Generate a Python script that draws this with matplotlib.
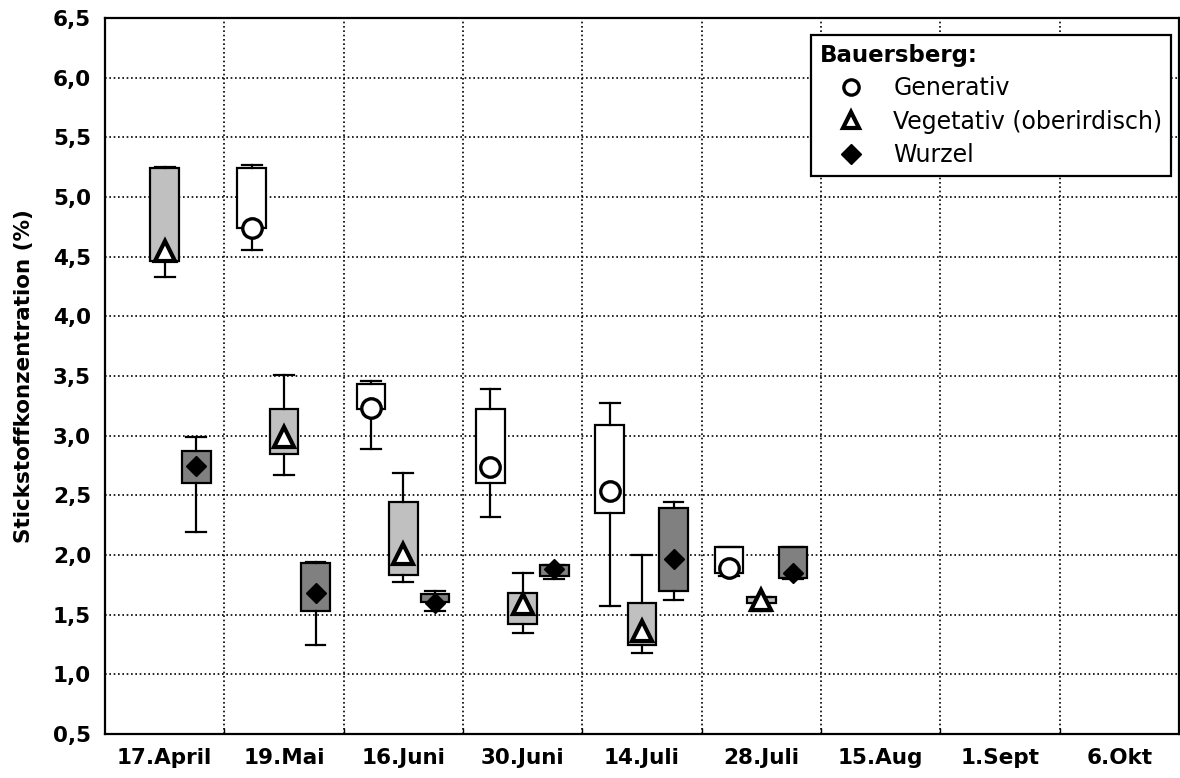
import numpy as np
import matplotlib
matplotlib.use("Agg")
import matplotlib.pyplot as plt
from matplotlib.lines import Line2D
from matplotlib.ticker import FixedLocator, FuncFormatter

# ---- data -------------------------------------------------------------
dates = ["17.April", "19.Mai", "16.Juni", "30.Juni", "14.Juli",
         "28.Juli", "15.Aug", "1.Sept", "6.Okt"]
nan = np.nan

# Generativ
gen_lo   = [nan, 4.56, 2.89, 2.32, 1.57, 1.82, nan, nan, nan]
gen_q1   = [nan, 4.74, 3.22, 2.60, 2.35, 1.85, nan, nan, nan]
gen_q3   = [nan, 5.24, 3.43, 3.22, 3.09, 2.07, nan, nan, nan]
gen_hi   = [nan, 5.27, 3.46, 3.39, 3.27, 2.07, nan, nan, nan]
gen_mean = [nan, 4.74, 3.23, 2.74, 2.54, 1.89, nan, nan, nan]

# Vegetativ (oberirdisch)
veg_lo   = [4.33, 2.67, 1.77, 1.35, 1.18, 1.53, nan, nan, nan]
veg_q1   = [4.46, 2.85, 1.83, 1.42, 1.25, 1.60, nan, nan, nan]
veg_q3   = [5.24, 3.22, 2.44, 1.68, 1.60, 1.65, nan, nan, nan]
veg_hi   = [5.25, 3.51, 2.69, 1.85, 2.00, 1.65, nan, nan, nan]
veg_mean = [4.55, 2.99, 2.01, 1.59, 1.36, 1.62, nan, nan, nan]

# Wurzel
wur_lo   = [2.19, 1.25, 1.53, 1.80, 1.62, 1.80, nan, nan, nan]
wur_q1   = [2.60, 1.53, 1.61, 1.82, 1.70, 1.81, nan, nan, nan]
wur_q3   = [2.87, 1.93, 1.67, 1.92, 2.39, 2.07, nan, nan, nan]
wur_hi   = [2.99, 1.94, 1.70, 1.92, 2.44, 2.07, nan, nan, nan]
wur_mean = [2.75, 1.68, 1.60, 1.88, 1.97, 1.85, nan, nan, nan]

y_ticks = [0.5, 1.0, 1.5, 2.0, 2.5, 3.0, 3.5, 4.0, 4.5, 5.0, 5.5, 6.0, 6.5]

# ---- figure -----------------------------------------------------------
plt.rcParams['font.family'] = ['DejaVu Sans']
fig = plt.figure(figsize=(11.8, 7.78), dpi=100)
ax = fig.add_axes([105 / 1180, 1 - 734 / 778, (1179 - 105) / 1180, (734 - 18) / 778])

groups = [
    (gen_lo, gen_q1, gen_q3, gen_hi, gen_mean, -0.27, 'white', 'o', 14, 'white', 2.4),
    (veg_lo, veg_q1, veg_q3, veg_hi, veg_mean, 0.0, '#c0c0c0', '^', 15, 'white', 3.0),
    (wur_lo, wur_q1, wur_q3, wur_hi, wur_mean, 0.265, '#808080', 'D', 10.5, 'black', 1.0),
]

for lo, q1, q3, hi, mean, off, fc, mk, ms, mfc, mew in groups:
    stats, pos, mx, my = [], [], [], []
    for i in range(len(dates)):
        if np.isnan(q1[i]):
            continue
        stats.append(dict(med=q1[i], q1=q1[i], q3=q3[i],
                          whislo=lo[i], whishi=hi[i], fliers=[]))
        pos.append(i + off)
        mx.append(i + off)
        my.append(mean[i])
    ax.bxp(stats, positions=pos, widths=0.24, capwidths=0.165,
           patch_artist=True, showfliers=False,
           boxprops=dict(facecolor=fc, edgecolor='black', linewidth=1.6),
           whiskerprops=dict(color='black', linewidth=1.6),
           capprops=dict(color='black', linewidth=1.6),
           medianprops=dict(linewidth=0),
           manage_ticks=False, zorder=3)
    ax.plot(mx, my, linestyle='none', marker=mk, ms=ms, mfc=mfc,
            mec='black', mew=mew, zorder=5)

# ---- axes -------------------------------------------------------------
ax.set_xlim(-0.5, len(dates) - 0.5)
ax.set_ylim(0.5, 6.5)
ax.set_xticks(range(len(dates)))
ax.set_xticklabels(dates, fontsize=15.5, fontweight='bold')
ax.xaxis.set_minor_locator(FixedLocator(np.arange(0.5, len(dates) - 0.5, 1.0)))
ax.set_yticks(y_ticks)
ax.yaxis.set_major_formatter(FuncFormatter(lambda v, p: f"{v:.1f}".replace('.', ',')))
for lab in ax.get_yticklabels():
    lab.set_fontweight('bold')
    lab.set_fontsize(15.5)
ax.tick_params(axis='x', which='major', length=0, pad=10)
ax.tick_params(axis='x', which='minor', direction='in', length=4, width=1)
ax.tick_params(axis='y', which='major', length=0, pad=10)

ax.set_axisbelow(True)
ax.grid(True, axis='y', which='major', color='black', linestyle=(0, (1, 1.6)), linewidth=1.2)
ax.grid(True, axis='x', which='minor', color='black', linestyle=(0, (1, 1.6)), linewidth=1.2)
ax.grid(False, axis='x', which='major')

for s in ax.spines.values():
    s.set_linewidth(1.6)
    s.set_color('black')

ax.set_ylabel("Stickstoffkonzentration (%)", fontsize=15.5, fontweight='bold', labelpad=14)

handles = [
    Line2D([], [], linestyle='none', marker='o', ms=11, mfc='white', mec='black', mew=2.4),
    Line2D([], [], linestyle='none', marker='^', ms=12, mfc='white', mec='black', mew=3.0),
    Line2D([], [], linestyle='none', marker='D', ms=10, mfc='black', mec='black', mew=1),
]
leg = ax.legend(handles, ["Generativ", "Vegetativ (oberirdisch)", "Wurzel"],
                title="Bauersberg:", loc='upper right',
                bbox_to_anchor=(0.9926, 0.976), borderaxespad=0,
                fontsize=17, title_fontproperties={'weight': 'bold', 'size': 16.5},
                frameon=True, fancybox=False, shadow=False,
                handlelength=2.63, handletextpad=0.5, labelspacing=0.4,
                borderpad=0.36, framealpha=1)
leg._legend_box.align = "left"
leg.get_frame().set_edgecolor('black')
leg.get_frame().set_linewidth(1.6)
leg.set_zorder(10)

fig.savefig("out.png", dpi=100)
